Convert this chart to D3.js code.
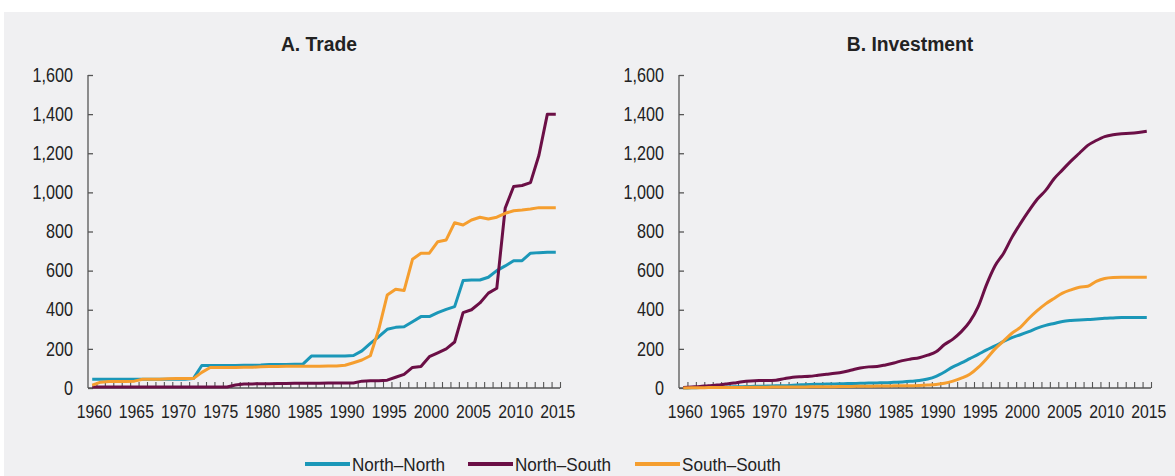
<!DOCTYPE html>
<html>
<head>
<meta charset="utf-8">
<script src="https://cdn.jsdelivr.net/npm/d3@7"></script>
<style>
  html, body { margin: 0; padding: 0; background: #ffffff; }
  svg { display: block; }
  text { font-family: "Liberation Sans", Arial, sans-serif; fill: #222; }
</style>
</head>
<body>
<svg id="chart" width="1175" height="476"></svg>
<script>
// ---------------- DATA ----------------
const years = d3.range(1960, 2016);
const yTicks = [0, 200, 400, 600, 800, 1000, 1200, 1400, 1600];
const xLabelYears = [1960,1965,1970,1975,1980,1985,1990,1995,2000,2005,2010,2015];
const seriesNames = ["North\u2013North", "North\u2013South", "South\u2013South"];
const seriesColors = ["#1b97b8", "#6b0f46", "#f59e2f"];
const panelTitles = ["A. Trade", "B. Investment"];

// Trade (panel A), 1960-2015
const tradeNN = [45,45,45,45,45,45,45,45,45,45,45,45,48,115,115,115,115,115,116,116,
  117,120,120,120,121,122,163,163,163,163,163,166,190,228,262,300,310,313,339,365,
  365,385,402,416,549,552,552,566,600,624,651,651,689,692,694,694];
const tradeNS = [5,5,5,5,5,5,5,5,5,5,5,5,5,5,5,5,5,15,20,21,
  22,22,23,23,24,24,24,24,25,25,25,26,35,37,37,40,55,70,105,110,
  160,180,200,235,385,400,435,485,510,920,1030,1035,1050,1190,1400,1400];
const tradeSS = [15,30,33,33,33,35,45,45,45,47,48,48,48,80,105,105,105,105,106,106,
  108,110,110,111,111,111,111,111,112,112,116,129,143,165,300,475,505,498,658,689,
  689,748,757,845,833,859,873,864,873,893,906,910,915,922,922,922];

// Investment (panel B), 1960-2015
const invNN = [0,1,2,3,4,5,6,7,8,9,10,11,12,14,16,18,19,20,21,22,
  23,24,25,26,27,29,31,34,38,46,60,82,108,128,150,172,195,215,238,258,
  272,288,306,320,330,340,345,348,350,353,356,358,360,361,361,361];
const invNS = [2,5,8,12,15,20,25,32,36,38,38,40,48,55,58,60,65,70,75,82,
  92,102,108,110,118,128,140,148,155,168,185,222,250,288,339,416,530,625,688,770,
  840,905,965,1010,1070,1115,1160,1200,1240,1265,1285,1295,1300,1302,1306,1312];
const invSS = [0,1,1,2,2,3,3,3,4,4,4,5,5,5,5,6,6,7,7,8,
  8,9,9,10,10,11,12,12,13,15,18,24,35,50,70,105,150,200,240,280,
  310,355,395,430,458,485,502,515,520,545,560,565,566,566,566,566];

const panels = [
  { title: panelTitles[0], series: [tradeNN, tradeNS, tradeSS], curve: d3.curveLinear },
  { title: panelTitles[1], series: [invNN, invNS, invSS], curve: d3.curveMonotoneX }
];

// ---------------- LAYOUT ----------------
const svg = d3.select("#chart");
svg.append("rect").attr("x", 4).attr("y", 12).attr("width", 1171).attr("height", 464)
  .attr("fill", "#f0f0f2");

const panelX = [88, 679];
const plotW = 472;
const yTop = 75, yBot = 388;
const axisColor = "#555";
const sx = 0.83; // horizontal squeeze of axis labels (narrow face)

const y = d3.scaleLinear().domain([0, 1600]).range([yBot, yTop]);

panels.forEach((p, pi) => {
  const x0 = panelX[pi];
  const g = svg.append("g");
  const xBand = d3.scaleBand().domain(years).range([x0, x0 + plotW]).padding(0);
  const xc = d => xBand(d) + xBand.bandwidth() / 2;
  const xEdge = d3.scaleLinear().domain([1959.5, 2015.5]).range([x0, x0 + plotW]);

  // title
  g.append("text")
    .attr("transform", `translate(${x0 + plotW / 2 - 5},51) scale(0.92,1)`)
    .attr("text-anchor", "middle").attr("font-size", 21).attr("font-weight", "bold")
    .text(p.title);

  // y axis
  const yAxis = g.append("g").attr("transform", `translate(${x0},0)`)
    .call(d3.axisLeft(y).tickValues(yTicks).tickSize(-5).tickPadding(15 / sx)
      .tickFormat(d3.format(",")));
  yAxis.select(".domain").attr("stroke", axisColor).attr("stroke-width", 1.3)
    .attr("d", `M0,${yTop}V${yBot}`);
  yAxis.selectAll(".tick line").attr("stroke", axisColor).attr("stroke-width", 1.3);
  yAxis.selectAll(".tick text").attr("font-size", 19.5).attr("fill", "#222")
    .attr("font-family", '"Liberation Sans", Arial, sans-serif')
    .attr("transform", `scale(${sx},1)`);

  // x axis: year boundary ticks (upward)
  const edgeAxis = g.append("g").attr("transform", `translate(0,${yBot})`)
    .call(d3.axisBottom(xEdge).tickValues(d3.range(1960.5, 2016.5, 1)).tickSize(-6)
      .tickFormat(""));
  edgeAxis.select(".domain").attr("stroke", axisColor).attr("stroke-width", 1.3)
    .attr("d", `M${x0},0H${x0 + plotW}`);
  edgeAxis.selectAll(".tick line").attr("stroke", axisColor).attr("stroke-width", 1.1);

  // x axis labels
  const labAxis = g.append("g").attr("transform", `translate(0,${yBot})`)
    .call(d3.axisBottom(xBand).tickValues(xLabelYears).tickSize(0).tickPadding(17));
  labAxis.select(".domain").remove();
  labAxis.selectAll(".tick text").attr("font-size", 19).attr("fill", "#222")
    .attr("font-family", '"Liberation Sans", Arial, sans-serif')
    .attr("transform", `scale(${sx},1)`)
    .attr("dx", 2 / sx);

  // lines
  const line = d3.line().x((d, i) => xc(years[i])).y(d => y(d)).curve(p.curve);
  p.series.forEach((s, si) => {
    g.append("path").datum(s).attr("d", line).attr("fill", "none")
      .attr("stroke", seriesColors[si]).attr("stroke-width", 3)
      .attr("stroke-linejoin", "round");
  });
});

// ---------------- LEGEND ----------------
const legendX = [305, 468, 635];
const legend = svg.append("g");
seriesNames.forEach((n, i) => {
  legend.append("line").attr("x1", legendX[i]).attr("x2", legendX[i] + 45)
    .attr("y1", 464).attr("y2", 464).attr("stroke", seriesColors[i]).attr("stroke-width", 4);
  legend.append("text")
    .attr("transform", `translate(${legendX[i] + 47},471) scale(0.9,1)`)
    .attr("font-size", 19).text(n);
});
</script>
</body>
</html>
